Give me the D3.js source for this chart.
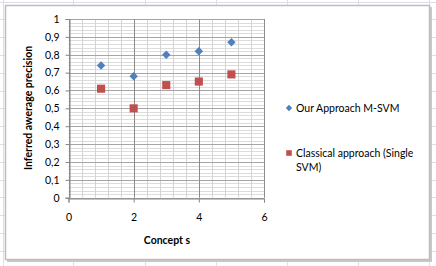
<!DOCTYPE html>
<html>
<head>
<meta charset="utf-8">
<script src="https://cdn.jsdelivr.net/npm/d3@7"></script>
<style>
	body { margin: 0; background: #fff; }
	svg { display: block; font-family: Lato, "Open Sans", sans-serif; }
</style>
</head>
<body>
<div id="chart"></div>
<script>
// concepts on the x axis
var concepts = [1, 2, 3, 4, 5];

// series values
var ourApproach = [0.74, 0.68, 0.80, 0.82, 0.87];
var classicalApproach = [0.61, 0.50, 0.63, 0.65, 0.69];

var seriesNames = ["Our Approach M-SVM", "Classical approach (Single", "SVM)"];

var xTicks = [0, 2, 4, 6];
var yTicks = [0, 0.1, 0.2, 0.3, 0.4, 0.5, 0.6, 0.7, 0.8, 0.9, 1];

var blue = "#4f81bd", red = "#c0504d";

var W = 436, H = 266;
var svg = d3.select("#chart").append("svg")
	.attr("width", W)
	.attr("height", H);

// faint spreadsheet cells behind the chart
var sheet = svg.append("g").attr("stroke", "#dcdcec").attr("stroke-width", 1);
d3.range(1.5, H, 17.8).forEach(function (y) {
	sheet.append("line").attr("x1", 0).attr("x2", W).attr("y1", Math.round(y) + 0.5).attr("y2", Math.round(y) + 0.5);
});
[3, 73, 145, 216, 287, 358, 429].forEach(function (x) {
	sheet.append("line").attr("x1", x + 0.5).attr("x2", x + 0.5).attr("y1", 0).attr("y2", H);
});

// chart frame with shadow
svg.append("rect")
	.attr("x", 7).attr("y", 7).attr("width", 425).attr("height", 255)
	.attr("fill", "#c8c8c8");
svg.append("rect")
	.attr("x", 5.5).attr("y", 5.5).attr("width", 424).attr("height", 254)
	.attr("fill", "#fff").attr("stroke", "#bdbdbd").attr("stroke-width", 1.5);

// scales
var x = d3.scaleLinear().domain([0, 6]).range([68.5, 264]);
var y = d3.scaleLinear().domain([0, 1]).range([197.7, 19]);

var grid = svg.append("g");

// minor horizontal gridlines every 0.02
grid.selectAll(".hminor")
	.data(d3.range(0, 51).map(function (i) { return i / 50; }))
	.enter().append("line")
	.attr("x1", x(0)).attr("x2", x(6))
	.attr("y1", function (d) { return Math.round(y(d)) + 0.5; })
	.attr("y2", function (d) { return Math.round(y(d)) + 0.5; })
	.attr("stroke", "#dcdcdc");

// minor vertical gridlines every 0.4
grid.selectAll(".vminor")
	.data(d3.range(0, 16).map(function (i) { return i * 0.4; }))
	.enter().append("line")
	.attr("x1", function (d) { return Math.round(x(d)) + 0.5; })
	.attr("x2", function (d) { return Math.round(x(d)) + 0.5; })
	.attr("y1", y(0)).attr("y2", y(1))
	.attr("stroke", "#d4d4d4");

// major gridlines
grid.selectAll(".hmajor")
	.data(yTicks)
	.enter().append("line")
	.attr("x1", x(0)).attr("x2", x(6))
	.attr("y1", function (d) { return Math.round(y(d)) + 0.5; })
	.attr("y2", function (d) { return Math.round(y(d)) + 0.5; })
	.attr("stroke", "#a6a6a6");

grid.selectAll(".vmajor")
	.data(xTicks)
	.enter().append("line")
	.attr("x1", function (d) { return Math.round(x(d)) + 0.5; })
	.attr("x2", function (d) { return Math.round(x(d)) + 0.5; })
	.attr("y1", y(0)).attr("y2", y(1))
	.attr("stroke", "#8c8c8c");

// axes
var fmt = function (d) { return String(d).replace(".", ","); };

var yAxis = d3.axisLeft(y).tickValues(yTicks).tickFormat(fmt).tickSize(4).tickPadding(6);
var xAxis = d3.axisBottom(x).tickValues(xTicks).tickFormat(fmt).tickSize(4).tickPadding(11);

var gy = svg.append("g")
	.attr("transform", "translate(" + (Math.round(x(0)) + 0.5) + ",0)")
	.call(yAxis);
var gx = svg.append("g")
	.attr("transform", "translate(0," + (Math.round(y(0)) + 0.5) + ")")
	.call(xAxis);

[gx, gy].forEach(function (g) {
	g.select(".domain").attr("stroke", "#868686");
	g.selectAll(".tick line").attr("stroke", "#868686");
	g.selectAll(".tick text")
		.attr("fill", "#000")
		.style("font-family", "Lato, sans-serif")
		.style("font-size", "10.5px");
});

// axis titles
svg.append("text")
	.attr("x", 167).attr("y", 244)
	.attr("text-anchor", "middle")
	.style("font-size", "10.5px").style("font-weight", "bold")
	.text("Concept s");

svg.append("text")
	.attr("transform", "translate(32,108) rotate(-90)")
	.attr("text-anchor", "middle")
	.style("font-size", "10.5px").style("font-weight", "bold")
	.text("Inferred awerage precision");

// data points
var diamond = d3.symbol().type(d3.symbolDiamond2).size(46);
var square = d3.symbol().type(d3.symbolSquare2).size(84);

svg.selectAll(".blue")
	.data(concepts)
	.enter().append("path")
	.attr("d", diamond)
	.attr("transform", function (d, i) { return "translate(" + x(d) + "," + y(ourApproach[i]) + ")"; })
	.attr("fill", blue);

svg.selectAll(".red")
	.data(concepts)
	.enter().append("path")
	.attr("d", square)
	.attr("transform", function (d, i) { return "translate(" + x(d) + "," + y(classicalApproach[i]) + ")"; })
	.attr("fill", red);

// legend
var legend = svg.append("g").style("font-size", "10.5px");
legend.append("path")
	.attr("d", d3.symbol().type(d3.symbolDiamond2).size(26))
	.attr("transform", "translate(289,108)")
	.attr("fill", blue);
legend.append("text").attr("x", 296).attr("y", 112).text(seriesNames[0]);

legend.append("path")
	.attr("d", d3.symbol().type(d3.symbolSquare2).size(40))
	.attr("transform", "translate(289,153)")
	.attr("fill", red);
legend.append("text").attr("x", 296).attr("y", 157).text(seriesNames[1]);
legend.append("text").attr("x", 296).attr("y", 171).text(seriesNames[2]);
</script>
</body>
</html>
